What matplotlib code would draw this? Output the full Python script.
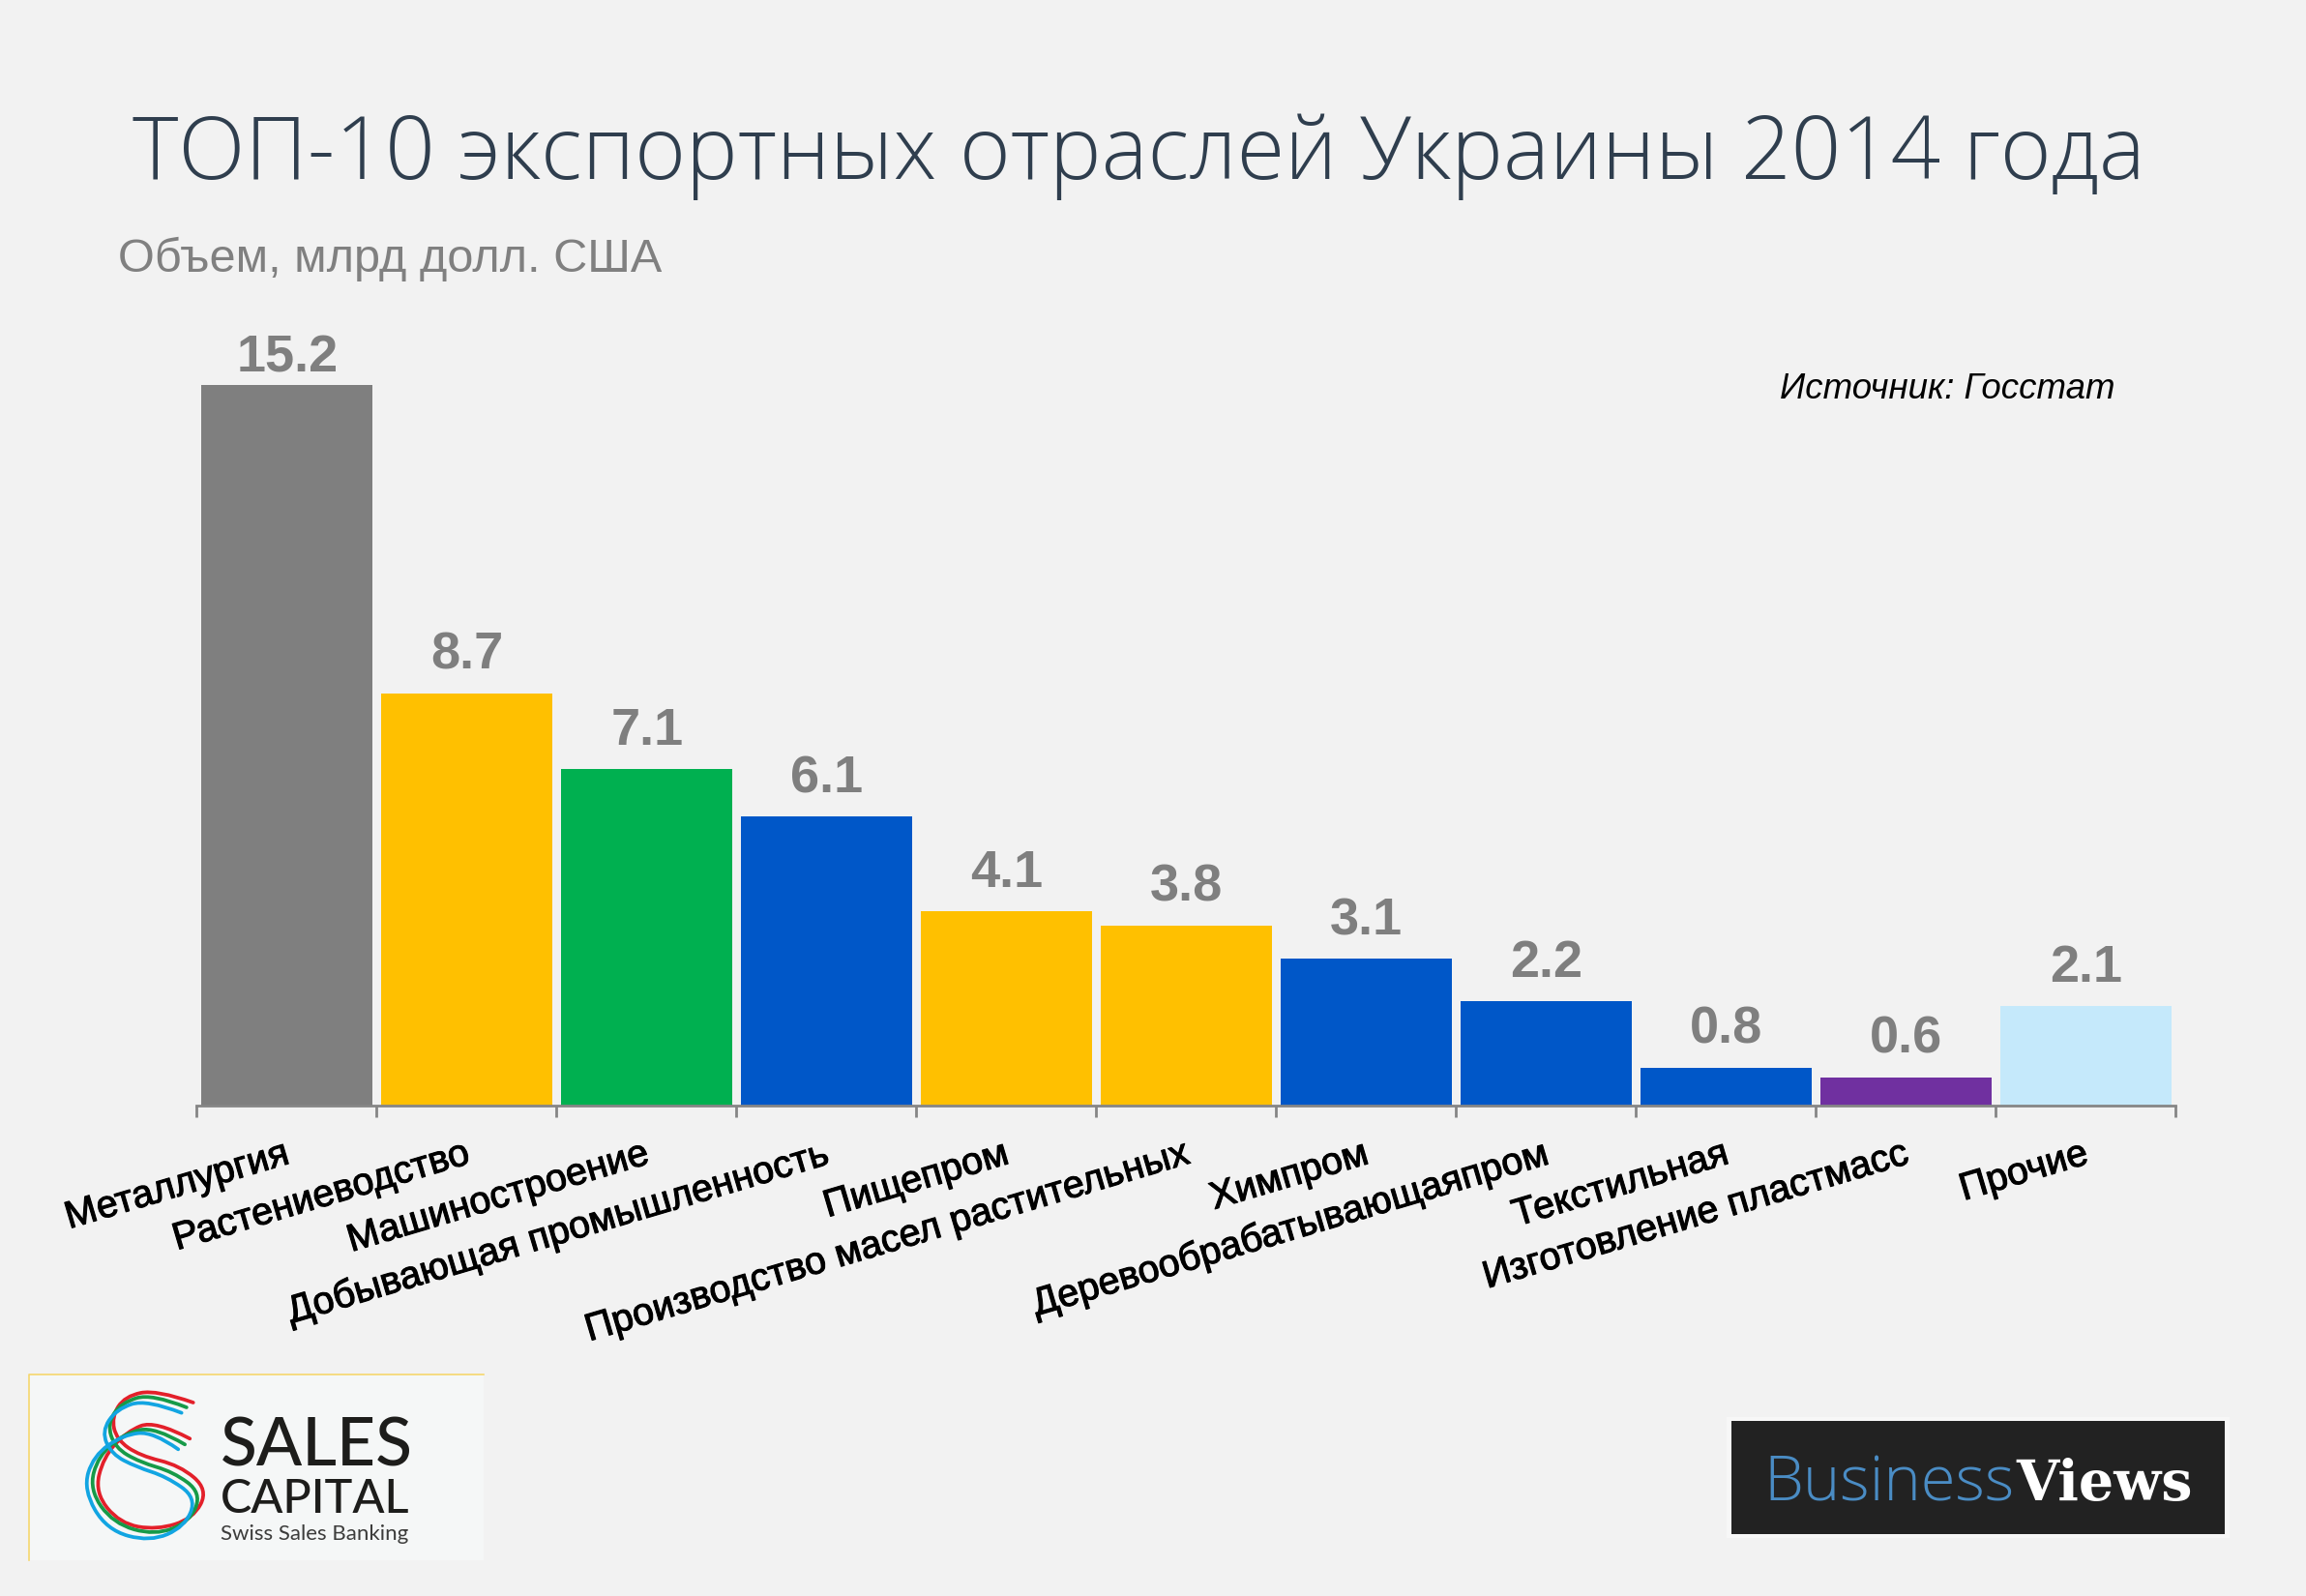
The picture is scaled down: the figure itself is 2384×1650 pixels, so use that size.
import matplotlib
matplotlib.use('Agg')
import matplotlib.pyplot as plt
import matplotlib.patheffects as pe
from matplotlib.patches import PathPatch, Rectangle
from matplotlib.path import Path

W, H = 2384, 1650
BG = '#f2f2f2'

categories = ['Металлургия', 'Растениеводство', 'Машиностроение',
              'Добывающая промышленность', 'Пищепром',
              'Производство масел растительных', 'Химпром',
              'Деревообрабатывающаяпром', 'Текстильная',
              'Изготовление пластмасс', 'Прочие']
values = [15.2, 8.7, 7.1, 6.1, 4.1, 3.8, 3.1, 2.2, 0.8, 0.6, 2.1]
bar_colors = ['#7f7f7f', '#ffc000', '#00b050', '#0057c8', '#ffc000', '#ffc000',
              '#0057c8', '#0057c8', '#0057c8', '#7030a0', '#c5e9fb']

plt.rcParams['font.family'] = ['Liberation Sans', 'DejaVu Sans']

fig = plt.figure(figsize=(W / 100, H / 100), dpi=100, facecolor=BG)

# main axes, placed so that one unit is 49 px
ax = fig.add_axes([203 / W, (H - 1143) / H, (2249 - 203) / W, 843 / H])
ax.set_facecolor('none')
centers = [i + 0.5 for i in range(len(values))]
bars = ax.bar([c + 0.004 for c in centers], values, width=0.95, color=bar_colors, linewidth=0)
ax.set_xlim(0, len(values))
ax.set_ylim(0, 843 / 49)

for side in ['top', 'left', 'right']:
    ax.spines[side].set_visible(False)
ax.spines['bottom'].set_color('#868686')
ax.spines['bottom'].set_linewidth(2)
ax.set_yticks([])
ax.set_xticks(range(len(values) + 1))
ax.set_xticklabels([])
ax.tick_params(axis='x', which='major', length=8.5, width=2, color='#868686')
ax.set_xticks([c - 0.02 for c in centers], labels=categories, minor=True)
ax.tick_params(axis='x', which='minor', length=0, pad=22, labelsize=28.5, labelcolor='black')
for label in ax.get_xticklabels(minor=True):
    label.set_rotation(16.5)
    label.set_ha('right')
    label.set_va('top')
    label.set_rotation_mode('anchor')
    label.set_path_effects([pe.withStroke(linewidth=0.8, foreground='black')])

value_labels = ax.bar_label(bars, labels=[f'{v:.1f}' for v in values], padding=10,
                            fontsize=39, fontweight='bold', color='#7f7f7f')
# the first label sits closer to its bar
value_labels[0].xyann = (value_labels[0].xyann[0], 2)

# overlay in pixel coordinates for titles and logos
ov = fig.add_axes([0, 0, 1, 1])
ov.set_xlim(0, W)
ov.set_ylim(H, 0)
ov.axis('off')
ov.patch.set_alpha(0)

ov.text(137, 185, 'ТОП-10 экспортных отраслей Украины 2014 года', fontsize=65,
        family=['Open Sans', 'DejaVu Sans'], fontweight='light', color='#2f3e4e', va='baseline')
ov.text(122, 281, 'Объем, млрд долл. США', fontsize=35, color='#808080', va='baseline')
ov.text(1840, 412, 'Источник: Госстат', fontsize=26.4, style='italic', color='black', va='baseline')


def spline(points, color):
    # quadratic curve through the midpoints of the control polygon
    verts = [points[0]]
    codes = [Path.MOVETO]
    for a, b in zip(points[1:-2], points[2:-1]):
        verts += [a, ((a[0] + b[0]) / 2, (a[1] + b[1]) / 2)]
        codes += [Path.CURVE3, Path.CURVE3]
    verts += [points[-2], points[-1]]
    codes += [Path.CURVE3, Path.CURVE3]
    ov.add_patch(PathPatch(Path(verts, codes), fill=False, edgecolor=color,
                           linewidth=2.7, capstyle='round'))


def logo_pts(zoomed):
    return [(x / 2.904, 1400 + y / 3) for x, y in zoomed]


# Sales Capital logo
ov.add_patch(Rectangle((30, 1421), 470, 192, facecolor='#f5f7f7', edgecolor='none'))
ov.plot([30, 30, 500], [1613, 1421, 1421], color='#f5d76e', linewidth=1.2)

red = [(580, 150), (470, 110), (375, 130), (335, 195), (350, 265), (420, 315), (540, 345),
       (625, 420), (580, 510), (470, 545), (360, 525), (285, 430), (310, 320), (380, 240),
       (465, 205), (570, 262)]
green = [(560, 165), (455, 122), (365, 150), (322, 215), (345, 290), (420, 335), (520, 365),
         (605, 430), (570, 520), (465, 562), (340, 525), (268, 420), (295, 315), (375, 245),
         (465, 225), (555, 280)]
blue = [(545, 182), (440, 140), (350, 170), (305, 240), (335, 310), (410, 350), (500, 380),
        (590, 445), (555, 535), (450, 582), (320, 545), (250, 420), (280, 315), (370, 250),
        (460, 240), (535, 295)]
spline(logo_pts(red), '#e3202a')
spline(logo_pts(green), '#169a48')
spline(logo_pts(blue), '#12a5e2')

ov.text(228, 1516, 'SALES', fontsize=50, family=['Lato', 'DejaVu Sans'], fontweight='medium',
        color='#1d1d1b', va='baseline')
ov.text(228, 1564, 'CAPITAL', fontsize=35, family=['Lato', 'DejaVu Sans'], fontweight='medium',
        color='#1d1d1b', va='baseline')
ov.text(228, 1592, 'Swiss Sales Banking', fontsize=16, family=['Lato', 'DejaVu Sans'],
        color='#3c3c3b', va='baseline')

# BusinessViews logo
ov.add_patch(Rectangle((1785, 1465), 520, 125, facecolor='#f7f7f7', edgecolor='none'))
ov.add_patch(Rectangle((1790, 1469), 510, 117, facecolor='#222222', edgecolor='none'))
ov.text(1823, 1551, 'Business', fontsize=47, family=['Open Sans', 'DejaVu Sans'], fontweight='light',
        color='#4a8cc4', va='baseline')
ov.text(2084, 1551, 'Views', fontsize=41, family=['DejaVu Serif'], fontweight='bold',
        color='white', va='baseline')

fig.savefig('out.png', dpi=100, facecolor=BG)
